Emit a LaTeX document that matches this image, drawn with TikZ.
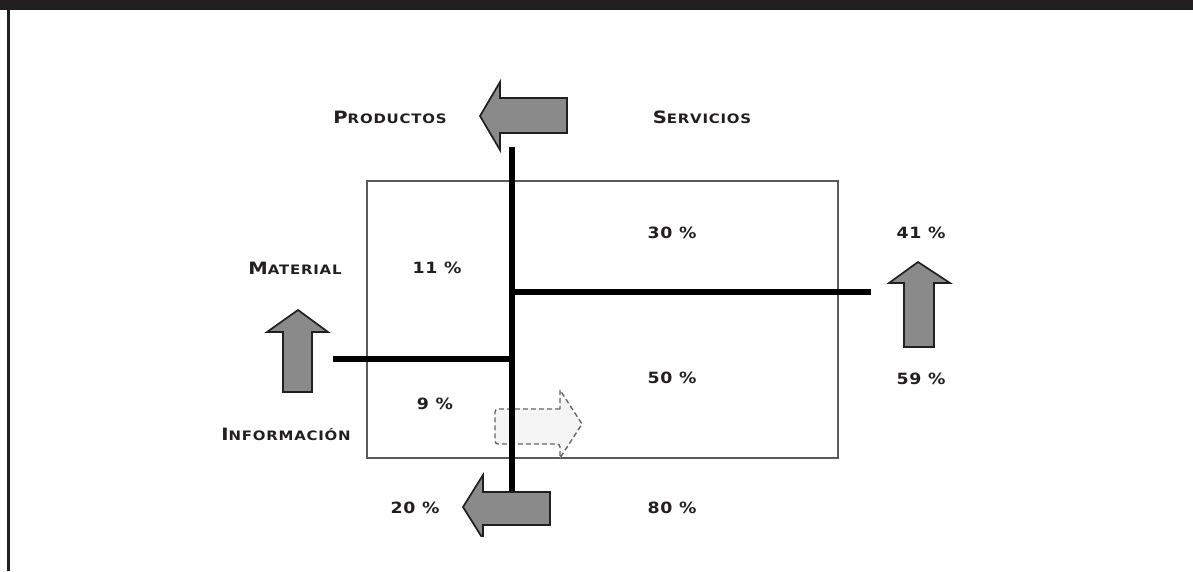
\documentclass[tikz,border=0pt]{standalone}
\usepackage{fontspec}
\newfontfamily\cpfont[FakeStretch=1.15,LetterSpace=6]{DejaVu Sans}
\newfontfamily\pcfont[FakeStretch=1.12,LetterSpace=4]{DejaVu Sans}
\newcommand{\capword}[2]{{\cpfont\bfseries\fontsize{17}{17}\selectfont #1\fontsize{13}{13}\selectfont #2}}
\newcommand{\pct}[1]{{\pcfont\bfseries\fontsize{15.5}{15.5}\selectfont #1}}
\definecolor{ink}{HTML}{231F20}
\definecolor{arrowgray}{HTML}{8A8A8A}
\definecolor{boxgray}{HTML}{5A5A5A}
\begin{document}
\begin{tikzpicture}[x=1pt,y=-1pt,
  lbl/.style={text=ink,inner sep=0pt,anchor=center},
  bigarrow/.style={fill=arrowgray,draw=ink,line width=1.7pt,line join=miter},
  thick line/.style={line width=5.5pt,black},
  ghost/.style={fill=black!4,draw=black!60,line width=1.4pt,dash pattern=on 5pt off 3pt}]
\useasboundingbox (0,0) rectangle (1193,571);
% frame
\fill[ink] (0,0) rectangle (1193,10);
\fill[ink] (7.3,10) rectangle (10,571);
% main box
\draw[boxgray,line width=1.6pt] (367,181) rectangle (838,458);
% dashed arrow
\draw[ghost,rounded corners=3pt] (560,409) -- (495,409) -- (495,444) -- (560,444) [sharp corners]-- (560,458) -- (582,424) -- (560,390) -- cycle;
% thick lines
\coordinate (vtop) at (512,147);
\coordinate (vbot) at (512,492);
\coordinate (hu1) at (512,292);
\coordinate (hu2) at (871,292);
\coordinate (hl1) at (333,359);
\coordinate (hl2) at (512,359);
\draw[thick line] (vtop) -- (vbot);
\draw[thick line] (hu1) -- (hu2);
\draw[thick line] (hl1) -- (hl2);
% top arrow (left)
\draw[bigarrow] (567,98) -- (500,98) -- (500,82) -- (480,116) -- (500,150) -- (500,133) -- (567,133) -- cycle;
% bottom arrow (left)
\begin{scope}
\clip (400,460) rectangle (600,536);
\draw[bigarrow] (550,492) -- (483,492) -- (483,475) -- (463,507) -- (483,539) -- (483,525) -- (550,525) -- cycle;
\end{scope}
% left up arrow
\draw[bigarrow] (298,310) -- (328,332) -- (312,332) -- (312,392) -- (283,392) -- (283,332) -- (267,332) -- cycle;
% right up arrow
\draw[bigarrow] (918,262) -- (950,283) -- (934,283) -- (934,347) -- (904,347) -- (904,283) -- (889,283) -- cycle;
% labels
\node[lbl] (productos) at (390,117) {\capword{P}{RODUCTOS}};
\node[lbl] (servicios) at (702,117) {\capword{S}{ERVICIOS}};
\node[lbl] (material) at (295,268) {\capword{M}{ATERIAL}};
\node[lbl] (informacion) at (286,434) {\capword{I}{NFORMACIÓN}};
\node[lbl] (p11) at (437,268) {\pct{11 \%}};
\node[lbl] (p30) at (672,233) {\pct{30 \%}};
\node[lbl] (p41) at (921,233) {\pct{41 \%}};
\node[lbl] (p50) at (672,378) {\pct{50 \%}};
\node[lbl] (p59) at (921,379) {\pct{59 \%}};
\node[lbl] (p9) at (435,404) {\pct{9 \%}};
\node[lbl] (p20) at (415,508) {\pct{20 \%}};
\node[lbl] (p80) at (672,508) {\pct{80 \%}};
\end{tikzpicture}
\end{document}
